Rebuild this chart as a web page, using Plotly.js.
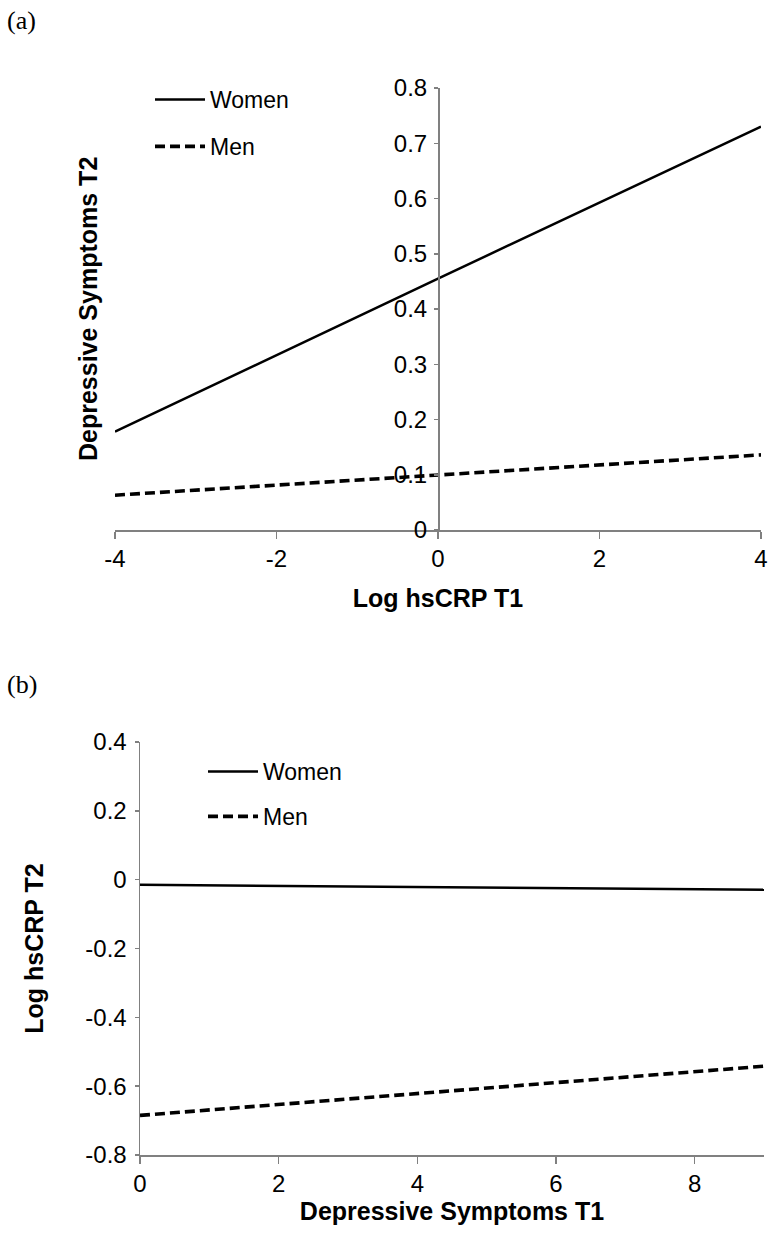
<!DOCTYPE html>
<html>
<head>
<meta charset="utf-8">
<script src="https://cdn.plot.ly/plotly-3.0.1.min.js"></script>
<style>html,body{margin:0;padding:0;background:#fff;}#chart{width:768px;height:1237px;}</style>
</head>
<body>
<div id="chart"></div>
<script>
// Panel (a): Depressive Symptoms T2 vs Log hsCRP T1
const crpT1 = [-4, 0, 4];
const depT2Women = [0.178, 0.455, 0.730];
const depT2Men = [0.063, 0.100, 0.136];
const aXTickVals = [-4, -2, 0, 2, 4];
const aXTickText = ['-4', '-2', '0', '2', '4'];
const aYTickVals = [0, 0.1, 0.2, 0.3, 0.4, 0.5, 0.6, 0.7, 0.8];
const aYTickText = ['0', '0.1', '0.2', '0.3', '0.4', '0.5', '0.6', '0.7', '0.8'];

// Panel (b): Log hsCRP T2 vs Depressive Symptoms T1
const depT1 = [0, 9];
const crpT2Women = [-0.015, -0.029];
const crpT2Men = [-0.685, -0.542];
const bXTickVals = [0, 2, 4, 6, 8];
const bXTickText = ['0', '2', '4', '6', '8'];
const bYTickVals = [-0.8, -0.6, -0.4, -0.2, 0, 0.2, 0.4];
const bYTickText = ['-0.8', '-0.6', '-0.4', '-0.2', '0', '0.2', '0.4'];

const seriesNames = ['Women', 'Men'];

const FONT = 'Liberation Sans, Arial, sans-serif';
const AX = '#808080';
const tickFont = {family: FONT, size: 24, color: '#000'};
const titleFont = {family: FONT, size: 25, color: '#000', weight: 'bold'};

const W = 768, H = 1237;
const fx = p => p / W;
const fy = p => (H - p) / H;

const aXDom = [fx(115), fx(761)];
const aYDom = [fy(530), fy(88)];
const bXDom = [fx(140), fx(764)];
const bYDom = [fy(1155), fy(742)];

const traces = [
  {x: crpT1, y: depT2Women, name: seriesNames[0], type: 'scatter', mode: 'lines',
   line: {color: '#000', width: 2.5}, xaxis: 'x', yaxis: 'y', legend: 'legend', legendgroup: 'aw'},
  {x: crpT1, y: depT2Men, name: seriesNames[1], type: 'scatter', mode: 'lines',
   line: {color: '#000', width: 3.6, dash: '10px,5px'}, xaxis: 'x', yaxis: 'y', legend: 'legend', legendgroup: 'am'},
  {x: depT1, y: crpT2Women, name: seriesNames[0], type: 'scatter', mode: 'lines',
   line: {color: '#000', width: 2.5}, xaxis: 'x2', yaxis: 'y2', legend: 'legend2', legendgroup: 'bw'},
  {x: depT1, y: crpT2Men, name: seriesNames[1], type: 'scatter', mode: 'lines',
   line: {color: '#000', width: 3.6, dash: '10px,5px'}, xaxis: 'x2', yaxis: 'y2', legend: 'legend2', legendgroup: 'bm'}
];

const baseAxis = {showgrid: false, zeroline: false, showline: true, linecolor: AX, linewidth: 1.5,
  ticks: 'outside', tickcolor: AX, tickwidth: 1.5, tickfont: tickFont, fixedrange: true};

const legendBase = {xanchor: 'left', yanchor: 'top', bgcolor: 'rgba(0,0,0,0)',
  font: {family: FONT, size: 23, color: '#000'}, traceorder: 'grouped', tracegroupgap: 14,
  itemwidth: 50};

const layout = {
  width: W, height: H, autosize: false,
  margin: {l: 0, r: 0, t: 0, b: 0},
  paper_bgcolor: '#fff', plot_bgcolor: 'rgba(0,0,0,0)',
  showlegend: true,
  xaxis: Object.assign({}, baseAxis, {domain: aXDom, range: [-4, 4], anchor: 'y',
    tickmode: 'array', tickvals: aXTickVals, ticktext: aXTickText, ticklen: 7,
    title: {text: 'Log hsCRP T1', font: titleFont, standoff: 18}}),
  yaxis: Object.assign({}, baseAxis, {domain: aYDom, range: [0, 0.8], anchor: 'free',
    position: (aXDom[0] + aXDom[1]) / 2, side: 'left', ticklabelstandoff: 2,
    tickmode: 'array', tickvals: aYTickVals, ticktext: aYTickText, ticklen: 4}),
  xaxis2: Object.assign({}, baseAxis, {domain: bXDom, range: [0, 9], anchor: 'y2',
    tickmode: 'array', tickvals: bXTickVals, ticktext: bXTickText, ticklen: 7,
    title: {text: 'Depressive Symptoms T1', font: titleFont, standoff: 2}}),
  yaxis2: Object.assign({}, baseAxis, {domain: bYDom, range: [-0.8, 0.4], anchor: 'x2',
    tickmode: 'array', tickvals: bYTickVals, ticktext: bYTickText, ticklen: 4, ticklabelstandoff: 3,
    title: {text: 'Log hsCRP T2', font: titleFont, standoff: 34}}),
  legend: Object.assign({}, legendBase, {x: fx(150), y: fy(78)}),
  legend2: Object.assign({}, legendBase, {x: fx(203), y: fy(750), tracegroupgap: 12}),
  annotations: [
    {text: 'Depressive Symptoms T2', xref: 'paper', yref: 'paper', x: fx(88), y: (aYDom[0] + aYDom[1]) / 2,
     xanchor: 'center', yanchor: 'middle', textangle: -90, showarrow: false, font: titleFont},
    {text: '(a)', xref: 'paper', yref: 'paper', x: fx(5), y: fy(4), xanchor: 'left', yanchor: 'top',
     showarrow: false, font: {family: 'Liberation Serif, Times New Roman, serif', size: 26, color: '#000'}},
    {text: '(b)', xref: 'paper', yref: 'paper', x: fx(5), y: fy(668), xanchor: 'left', yanchor: 'top',
     showarrow: false, font: {family: 'Liberation Serif, Times New Roman, serif', size: 26, color: '#000'}}
  ]
};

Plotly.newPlot('chart', traces, layout, {displayModeBar: false, staticPlot: true});
</script>
</body>
</html>
